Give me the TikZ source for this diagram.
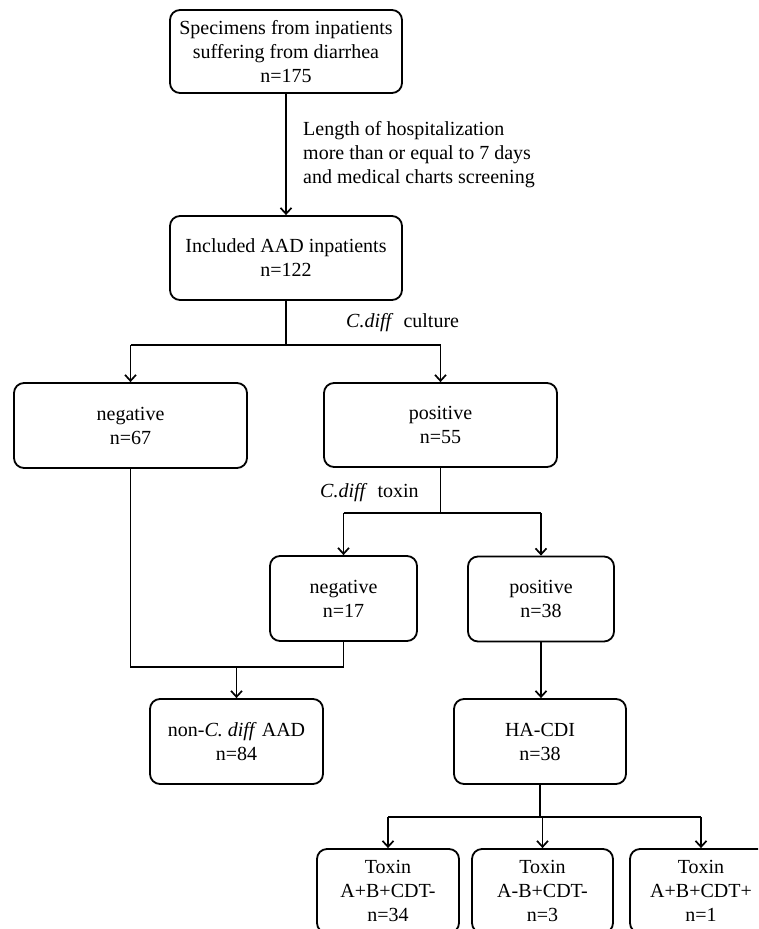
\documentclass[tikz,border=0pt]{standalone}
\usepackage{fontspec}
\setmainfont{Liberation Serif}
\usetikzlibrary{arrows.meta,calc}
\begin{document}
\begin{tikzpicture}[x=1pt,y=-1pt,
  box/.style={draw, line width=1.8pt, rounded corners=10pt, align=center,
    font=\fontsize{20}{24}\selectfont, inner sep=0pt},
  bigbox/.style={box, minimum width=232pt, minimum height=84pt},
  midbox/.style={box, minimum width=146pt, minimum height=85pt},
  conn/.style={line width=1.7pt},
  arr/.style={conn, -{Straight Barb[length=6pt,width=11pt]}},
  lbl/.style={font=\fontsize{20}{24}\selectfont, inner sep=0pt, align=left}
]
\useasboundingbox (0,0) rectangle (758,929);
\clip (0,0) rectangle (758,929);
\fill[white] (0,0) rectangle (758,929);

% nodes
\node[bigbox, minimum height=83pt] (b1) at (286,51.5) {Specimens from inpatients\\suffering from diarrhea\\n=175};
\node[bigbox] (b2) at (286,258) {Included AAD inpatients\\n=122};
\node[bigbox, minimum width=233pt, minimum height=85pt] (n67) at (130.5,425.5) {negative\\n=67};
\node[bigbox, minimum width=233pt] (p55) at (440.5,425) {positive\\n=55};
\node[midbox, minimum width=147pt] (n17) at (343.5,598.5) {negative\\n=17};
\node[midbox] (p38) at (541,599) {positive\\n=38};
\node[midbox, minimum width=173pt] (nc) at (236.5,741.5) {non-\textit{C. diff} AAD\\n=84};
\node[midbox, minimum width=172pt] (ha) at (540,741.5) {HA-CDI\\n=38};
\node[box, minimum width=142pt, minimum height=84pt] (t1) at (388,891) {Toxin\\A+B+CDT-\\n=34};
\node[box, minimum width=141pt, minimum height=84pt] (t2) at (542.5,891) {Toxin\\A-B+CDT-\\n=3};
\node[box, minimum width=142pt, minimum height=84pt] (t3) at (701,891) {Toxin\\A+B+CDT+\\n=1};

% labels
\node[lbl, anchor=north west] (l1) at (303,121) {Length of hospitalization\\more than or equal to 7 days\\and medical charts screening};
\node[lbl, anchor=west] (l2) at (346,323) {\textit{C.diff}\ \ culture};
\node[lbl, anchor=west] (l3) at (320,493) {\textit{C.diff}\ \ toxin};

% junction coordinates
\coordinate (j1) at (286,345);
\coordinate (j2) at (440.5,513);
\coordinate (j3) at (236.5,667);
\coordinate (j4) at (540,817);

% connectors
\draw[arr] (b1) -- (b2);
\draw[conn] (b2) -- (j1);
\draw[conn] (n67.north |- j1) -- (p55.north |- j1);
\draw[arr] (n67.north |- j1) -- (n67.north);
\draw[arr] (p55.north |- j1) -- (p55.north);

\draw[conn] (p55) -- (j2);
\draw[conn] (n17.north |- j2) -- (p38.north |- j2);
\draw[arr] (n17.north |- j2) -- (n17.north);
\draw[arr] (p38.north |- j2) -- (p38.north);

\draw[conn] (n67.south) -- (n67.south |- j3) -- (n17.south |- j3) -- (n17.south);
\draw[arr] (j3) -- (nc.north);

\draw[arr] (p38.south) -- (p38.south |- ha.north);

\draw[conn] (ha.south) -- (j4);
\draw[conn] (t1.north |- j4) -- (t3.north |- j4);
\draw[arr] (t1.north |- j4) -- (t1.north);
\draw[arr] (t2.north |- j4) -- (t2.north);
\draw[arr] (t3.north |- j4) -- (t3.north);
\end{tikzpicture}
\end{document}
